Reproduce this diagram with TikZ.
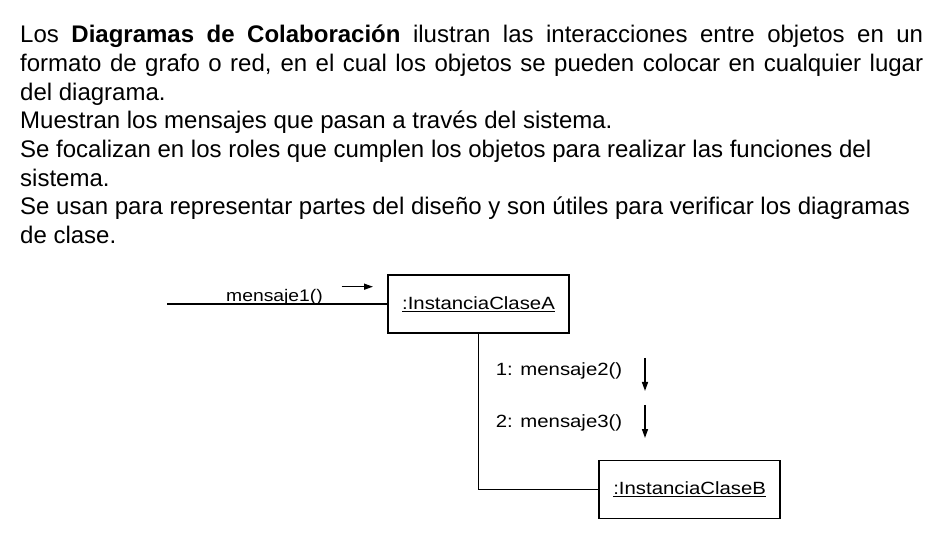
\documentclass[tikz,border=0pt]{standalone}
\usepackage{fontspec}
\setmainfont{Liberation Sans}
\newfontfamily\diagfont[FakeStretch=1.15]{Liberation Sans}
\usetikzlibrary{arrows.meta}
\tikzset{
  para/.style={anchor=base west, inner sep=0pt, font=\fontsize{24}{28.6}\selectfont},
  obj/.style={draw, line width=1.5pt, minimum width=181pt, minimum height=58pt, inner sep=0pt, font=\diagfont\fontsize{17.7}{20}\selectfont},
  lbl/.style={anchor=base west, inner sep=0pt, font=\diagfont\fontsize{17.7}{20}\selectfont},
  link/.style={line width=1.5pt},
  msg/.style={line width=1.5pt, -{Triangle[length=9pt,width=6pt]}}
}
\begin{document}
\begin{tikzpicture}[x=1pt,y=-1pt]
\useasboundingbox (0,0) rectangle (943,545);
% text
\node[para] (t1) at (20,42.3) {\makebox[903pt][s]{Los \textbf{Diagramas de Colaboración} ilustran las interacciones entre objetos en un}};
\node[para] (t2) at (20,71.7) {\makebox[903pt][s]{formato de grafo o red, en el cual los objetos se pueden colocar en cualquier lugar}};
\node[para] (t3) at (20,100.3) {del diagrama.};
\node[para] (t4) at (20,128.9) {Muestran los mensajes que pasan a través del sistema.};
\node[para] (t5) at (20,157.5) {Se focalizan en los roles que cumplen los objetos para realizar las funciones del};
\node[para] (t6) at (20,186.1) {sistema.};
\node[para] (t7) at (20,214.7) {Se usan para representar partes del diseño y son útiles para verificar los diagramas};
\node[para] (t8) at (20,243.3) {de clase.};
% diagram
\node[obj] (A) at (478.5,304) {\raisebox{-1.5pt}{\underline{:InstanciaClaseA}}};
\node[obj] (B) at (689.7,489.5) {\raisebox{-1pt}{\underline{:InstanciaClaseB}}};
\coordinate (in) at (167,304);
\draw[link] (in) -- (A.west);
\draw[link] (A.south) |- (B.west);
\node[lbl, font=\diagfont\fontsize{16.8}{20}\selectfont] (m1) at (226,302) {mensaje1()};
\coordinate (m1s) at (341.7,286.7);
\coordinate (m1e) at (373,286.7);
\draw[msg] (m1s) -- (m1e);
\node[lbl] (m2) at (495.7,376) {1: mensaje2()};
\coordinate (m2s) at (645,358);
\coordinate (m2e) at (645,391);
\draw[msg] (m2s) -- (m2e);
\node[lbl] (m3) at (495.7,427.3) {2: mensaje3()};
\coordinate (m3s) at (645,405);
\coordinate (m3e) at (645,438);
\draw[msg] (m3s) -- (m3e);
\end{tikzpicture}
\end{document}
